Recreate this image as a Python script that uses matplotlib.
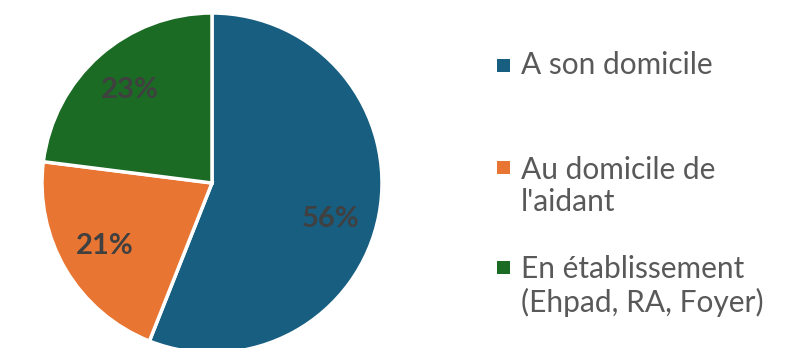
import numpy as np
import matplotlib.pyplot as plt
from matplotlib.patches import Rectangle

# lieu de vie de la personne aidée
categories = ["A son domicile", "Au domicile de\nl'aidant", "En établissement\n(Ehpad, RA, Foyer)"]
values = [56, 21, 23]
colors = ["#175E81", "#E97532", "#1B6B25"]

plt.rcParams["font.family"] = ["Lato", "DejaVu Sans"]

fig = plt.figure(figsize=(8.04, 3.48), dpi=100)
ax = fig.add_axes([0, 0, 1, 1])

# on travaille en pixels : centre et rayon du camembert
cx, cy, r = 212, 165, 170
wedges, _ = ax.pie(values, colors=colors, startangle=90, counterclock=False,
                   radius=r, center=(cx, cy),
                   wedgeprops=dict(edgecolor="white", linewidth=2.5))

# étiquettes de pourcentage au milieu de chaque part
for w, v in zip(wedges, values):
    ang = np.deg2rad((w.theta1 + w.theta2) / 2)
    if v == max(values):
        ang -= np.deg2rad(6)
    ax.text(cx + 0.73 * r * np.cos(ang), cy + 0.73 * r * np.sin(ang), f"{v}%",
            ha="center", va="center", fontsize=21, fontweight="bold", color="#404040")

ax.set_xlim(0, 804)
ax.set_ylim(0, 348)
ax.set_aspect("equal")
ax.axis("off")

# légende à droite
legend_y = [348 - 65, 348 - 186, 348 - 286]
for lab, col, y in zip(categories, colors, legend_y):
    n = lab.count("\n")
    top = y + n * 37 / 2
    ax.add_patch(Rectangle((497, top - 6.5), 13, 13, facecolor=col, edgecolor="none"))
    ax.text(521, y, lab, ha="left", va="center", fontsize=21.5, color="#595959",
            linespacing=1.2)

fig.savefig("out.png", dpi=100)
